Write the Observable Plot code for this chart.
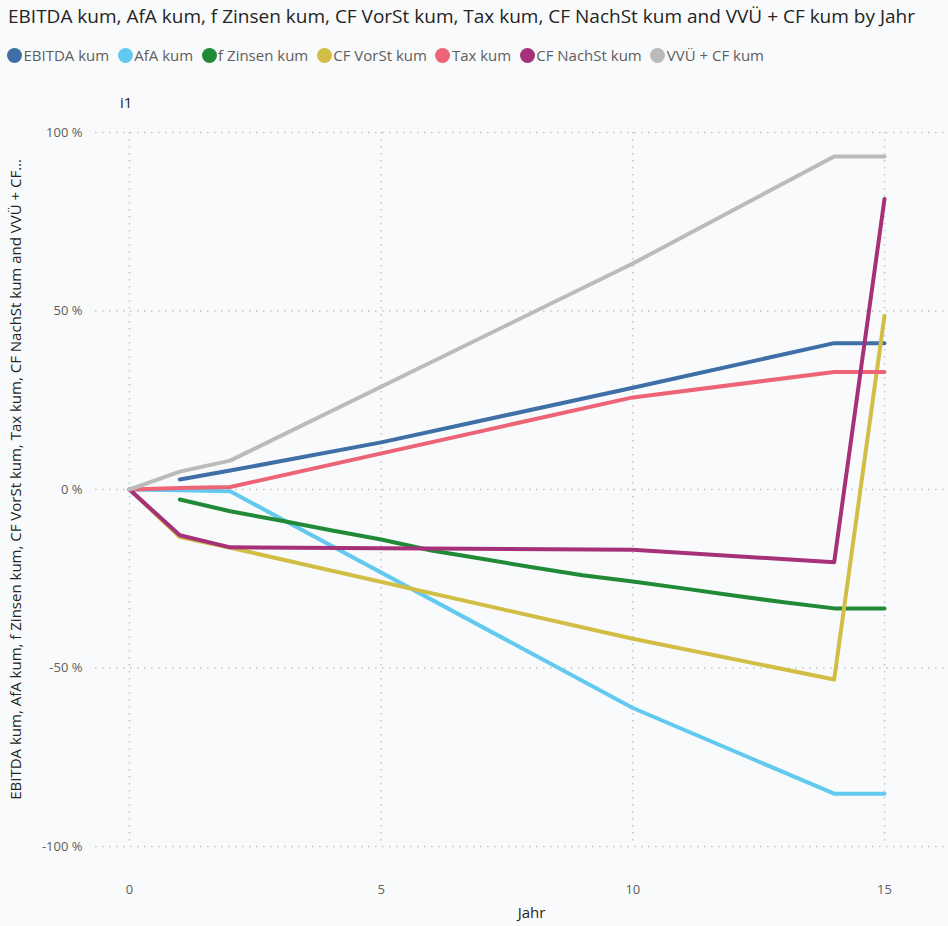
<!DOCTYPE html>
<html><head><meta charset="utf-8">
<script src="https://cdn.jsdelivr.net/npm/d3@7"></script>
<script src="https://cdn.jsdelivr.net/npm/@observablehq/plot@0.6"></script>
<style>
body{margin:0;background:#f9fafb;font-family:"Segoe UI","Open Sans",sans-serif;}
#wrap{position:relative;width:948px;height:926px;overflow:hidden;background:#f9fafb;}
#title{position:absolute;left:8px;top:3px;font-size:19px;color:#252423;white-space:nowrap;}
#legend{position:absolute;left:7px;top:45px;display:flex;font-size:15px;color:#605E5C;white-space:nowrap;line-height:20px;}
.item{display:flex;align-items:center;margin-right:8.5px;}
.sw{width:15px;height:15px;border-radius:50%;margin-right:1.5px;}
#i1{position:absolute;left:120px;top:92px;font-size:15px;color:#252423;}
#chart{position:absolute;left:0;top:70px;}
</style></head><body>
<div id="wrap">
<div id="title">EBITDA kum, AfA kum, f Zinsen kum, CF VorSt kum, Tax kum, CF NachSt kum and VVÜ + CF kum by Jahr</div>
<div id="legend"></div>
<div id="i1">i1</div>
<div id="chart"></div>
</div>
<script>
const jahre = [0, 1, 2, 3, 4, 5, 6, 7, 8, 9, 10, 11, 12, 13, 14, 15];
const serien = ["EBITDA kum", "AfA kum", "f Zinsen kum", "CF VorSt kum", "Tax kum", "CF NachSt kum", "VVÜ + CF kum"];
const farben = ["#3f6fa7", "#62c9ef", "#218a36", "#d2bd45", "#ee6477", "#a63179", "#bbbbbb"];
const ebitdaKum   = [null, 2.8, 5.3, null, null, 13.2, null, null, null, null, 28.5, null, null, null, 41.0, 41.0];
const afaKum      = [0, -0.2, -0.5, null, null, null, null, null, null, null, -61.2, null, null, null, -85.2, -85.2];
const fZinsenKum  = [null, -2.8, -6.1, -8.7, -11.4, -14.0, -17.1, -19.4, -21.8, -24.0, -25.8, -27.7, -29.7, -31.6, -33.3, -33.3];
const cfVorStKum  = [0, -13.3, -16.3, null, null, null, null, null, null, null, -41.8, null, null, null, -53.2, 48.7];
const taxKum      = [0, 0.4, 0.7, null, null, null, null, null, null, null, 25.8, null, null, null, 32.9, 32.9];
const cfNachStKum = [0, -12.8, -16.2, null, null, null, null, null, null, null, -16.9, null, null, null, -20.4, 81.4];
const vvueCfKum   = [0, 5.0, 8.1, null, null, null, null, null, null, null, 63.3, null, null, null, 93.3, 93.3];
const yTicks = [-100, -50, 0, 50, 100];
const xTicks = [0, 5, 10, 15];
const yTitel = "EBITDA kum, AfA kum, f Zinsen kum, CF VorSt kum, Tax kum, CF NachSt kum and VVÜ + CF…";
const xTitel = "Jahr";

const werte = [ebitdaKum, afaKum, fZinsenKum, cfVorStKum, taxKum, cfNachStKum, vvueCfKum];
const rows = [];
serien.forEach((s, i) => jahre.forEach((j, k) => {
  const v = werte[i][k];
  if (v != null) rows.push({Serie: s, Jahr: j, Wert: v});
}));

const legend = document.getElementById("legend");
serien.forEach((s, i) => {
  const it = document.createElement("div"); it.className = "item";
  const sw = document.createElement("span"); sw.className = "sw"; sw.style.background = farben[i];
  const t = document.createElement("span"); t.textContent = s;
  it.appendChild(sw); it.appendChild(t); legend.appendChild(it);
});

const grid = {stroke: "#c4c4c4", strokeOpacity: 1, strokeWidth: 1.5, strokeDasharray: "1.5,5.5"};
const chart = Plot.plot({
  width: 948, height: 856,
  marginLeft: 95, marginRight: 0, marginTop: 62, marginBottom: 80,
  style: {background: "transparent", fontFamily: "'Segoe UI','Open Sans',sans-serif"},
  x: {domain: [0, 15], range: [129, 884]},
  y: {domain: [-100, 100], range: [776, 62]},
  color: {domain: serien, range: farben},
  marks: [
    Plot.gridY(yTicks, grid),
    Plot.gridX(xTicks, grid),
    Plot.axisY(yTicks, {tickSize: 0, tickPadding: 13, tickFormat: d => `${d} %`, fontSize: 13, fill: "#605E5C", label: null}),
    Plot.axisX(xTicks, {tickSize: 0, tickPadding: 38, tickFormat: d => `${d}`, fontSize: 13, fill: "#605E5C", label: null}),
    Plot.line(rows, {x: "Jahr", y: "Wert", z: "Serie", stroke: "Serie", strokeWidth: 4, strokeLinejoin: "round", strokeLinecap: "round"}),
    Plot.text([yTitel], {text: d => d, frameAnchor: "left", textAnchor: "middle", rotate: -90, dx: -79, dy: -10, fontSize: 15, fill: "#252423"}),
    Plot.text([xTitel], {text: d => d, frameAnchor: "bottom", textAnchor: "middle", dx: 9.5, dy: 71, fontSize: 15, fill: "#252423"})
  ]
});
document.getElementById("chart").appendChild(chart);
</script>
</body></html>
